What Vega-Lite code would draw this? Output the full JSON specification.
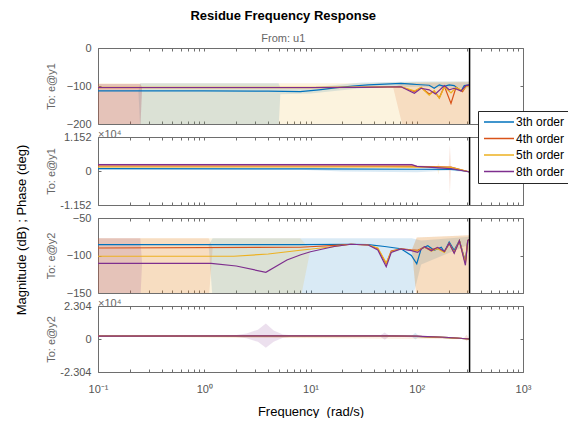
{
"$schema": "https://vega.github.io/schema/vega-lite/v6.json",
"background": "white",
"padding": {"left": 15, "top": 10, "right": 0, "bottom": 0},
"title": {"text": "Residue Frequency Response", "subtitle": "From: u1", "anchor": "middle", "dx": -10, "fontSize": 13, "fontWeight": "bold", "color": "black", "subtitleFontSize": 11, "subtitleColor": "#666666", "subtitlePadding": 10, "offset": -2},
"config": {
  "font": "Liberation Sans",
  "view": {"stroke": null},
  "axis": {"grid": false, "minExtent": 0, "domainColor": "#6e6e6e", "tickColor": "#6e6e6e", "labelColor": "#555555", "labelFontSize": 11, "domainWidth": 1, "tickWidth": 1}
},
"datasets": {
  "m1": [
    {"f":0.1,"s":"3th order","v":-113},{"f":1,"s":"3th order","v":-113},{"f":4,"s":"3th order","v":-113.5},{"f":8,"s":"3th order","v":-115},{"f":12,"s":"3th order","v":-110},{"f":17,"s":"3th order","v":-105},{"f":25,"s":"3th order","v":-100},{"f":35,"s":"3th order","v":-97},{"f":50,"s":"3th order","v":-95},{"f":71,"s":"3th order","v":-93},{"f":90,"s":"3th order","v":-95},{"f":100,"s":"3th order","v":-96},{"f":131,"s":"3th order","v":-98},{"f":146,"s":"3th order","v":-106},{"f":163,"s":"3th order","v":-97},{"f":182,"s":"3th order","v":-101},{"f":202,"s":"3th order","v":-97},{"f":225,"s":"3th order","v":-99},{"f":261,"s":"3th order","v":-113},{"f":280,"s":"3th order","v":-99},{"f":316,"s":"3th order","v":-97},
    {"f":0.1,"s":"4th order","v":-104.5},{"f":10,"s":"4th order","v":-104.5},{"f":30,"s":"4th order","v":-103.5},{"f":71,"s":"4th order","v":-102},{"f":95,"s":"4th order","v":-115},{"f":110,"s":"4th order","v":-104},{"f":131,"s":"4th order","v":-121},{"f":146,"s":"4th order","v":-114},{"f":163,"s":"4th order","v":-131},{"f":182,"s":"4th order","v":-101},{"f":210,"s":"4th order","v":-146},{"f":234,"s":"4th order","v":-104},{"f":270,"s":"4th order","v":-115},{"f":290,"s":"4th order","v":-101},{"f":316,"s":"4th order","v":-98},
    {"f":0.1,"s":"5th order","v":-103.5},{"f":10,"s":"5th order","v":-103.5},{"f":30,"s":"5th order","v":-103},{"f":71,"s":"5th order","v":-102},{"f":95,"s":"5th order","v":-113},{"f":110,"s":"5th order","v":-104},{"f":131,"s":"5th order","v":-124},{"f":146,"s":"5th order","v":-112},{"f":163,"s":"5th order","v":-132},{"f":182,"s":"5th order","v":-102},{"f":210,"s":"5th order","v":-118},{"f":234,"s":"5th order","v":-104},{"f":270,"s":"5th order","v":-112},{"f":290,"s":"5th order","v":-102},{"f":316,"s":"5th order","v":-98},
    {"f":0.1,"s":"8th order","v":-104},{"f":10,"s":"8th order","v":-104},{"f":30,"s":"8th order","v":-103.5},{"f":71,"s":"8th order","v":-102},{"f":95,"s":"8th order","v":-119},{"f":110,"s":"8th order","v":-106},{"f":131,"s":"8th order","v":-110},{"f":150,"s":"8th order","v":-121},{"f":182,"s":"8th order","v":-99},{"f":202,"s":"8th order","v":-110},{"f":225,"s":"8th order","v":-106},{"f":261,"s":"8th order","v":-113},{"f":290,"s":"8th order","v":-99},{"f":316,"s":"8th order","v":-97}
  ],
  "b1": [
    {"f":0.1,"s":"3th order","lo":-113,"hi":-113},{"f":0.24,"s":"3th order","lo":-113,"hi":-113},{"f":0.25,"s":"3th order","lo":-215,"hi":-93},{"f":5,"s":"3th order","lo":-215,"hi":-93},{"f":5.2,"s":"3th order","lo":-122,"hi":-104},{"f":10,"s":"3th order","lo":-120,"hi":-104},{"f":30,"s":"3th order","lo":-106,"hi":-91},{"f":100,"s":"3th order","lo":-102,"hi":-88},{"f":316,"s":"3th order","lo":-106,"hi":-88},
    {"f":0.1,"s":"4th order","lo":-215,"hi":-95},{"f":0.25,"s":"4th order","lo":-215,"hi":-95},{"f":0.26,"s":"4th order","lo":-104,"hi":-104},{"f":60,"s":"4th order","lo":-104,"hi":-104},{"f":75,"s":"4th order","lo":-215,"hi":-92},{"f":316,"s":"4th order","lo":-215,"hi":-90},
    {"f":0.1,"s":"5th order","lo":-215,"hi":-93},{"f":30,"s":"5th order","lo":-215,"hi":-93},{"f":71,"s":"5th order","lo":-215,"hi":-90},{"f":150,"s":"5th order","lo":-215,"hi":-89},{"f":316,"s":"5th order","lo":-215,"hi":-88},
    {"f":0.1,"s":"8th order","lo":-215,"hi":-95},{"f":0.25,"s":"8th order","lo":-215,"hi":-95},{"f":0.26,"s":"8th order","lo":-104,"hi":-104},{"f":316,"s":"8th order","lo":-97,"hi":-97}
  ],
  "m2": [
    {"f":0.1,"s":"3th order","v":780},{"f":10,"s":"3th order","v":700},{"f":100,"s":"3th order","v":600},{"f":210,"s":"3th order","v":580},{"f":260,"s":"3th order","v":300},{"f":316,"s":"3th order","v":-340},
    {"f":0.1,"s":"4th order","v":1700},{"f":10,"s":"4th order","v":1700},{"f":95,"s":"4th order","v":1650},{"f":100,"s":"4th order","v":1590},{"f":210,"s":"4th order","v":1360},{"f":316,"s":"4th order","v":-340},
    {"f":0.1,"s":"5th order","v":1360},{"f":50,"s":"5th order","v":1360},{"f":100,"s":"5th order","v":1300},{"f":210,"s":"5th order","v":1200},{"f":316,"s":"5th order","v":-340},
    {"f":0.1,"s":"8th order","v":2150},{"f":90,"s":"8th order","v":2150},{"f":100,"s":"8th order","v":1590},{"f":210,"s":"8th order","v":780},{"f":316,"s":"8th order","v":-340}
  ],
  "b2": [
    {"f":0.1,"s":"3th order","lo":400,"hi":1150},{"f":8,"s":"3th order","lo":400,"hi":1100},{"f":20,"s":"3th order","lo":-200,"hi":1000},{"f":100,"s":"3th order","lo":-400,"hi":900},{"f":200,"s":"3th order","lo":200,"hi":900},{"f":316,"s":"3th order","lo":-500,"hi":-200},
    {"f":0.1,"s":"4th order","lo":1400,"hi":2000},{"f":95,"s":"4th order","lo":1350,"hi":1950},{"f":100,"s":"4th order","lo":1300,"hi":1900},{"f":200,"s":"4th order","lo":1500,"hi":1500},{"f":205,"s":"4th order","lo":-7800,"hi":8800},{"f":210,"s":"4th order","lo":1200,"hi":1500},{"f":316,"s":"4th order","lo":-400,"hi":-300},
    {"f":0.1,"s":"5th order","lo":1100,"hi":1600},{"f":100,"s":"5th order","lo":1050,"hi":1550},{"f":155,"s":"5th order","lo":1000,"hi":1450},{"f":160,"s":"5th order","lo":-1200,"hi":2700},{"f":165,"s":"5th order","lo":1000,"hi":1400},{"f":316,"s":"5th order","lo":-400,"hi":-300},
    {"f":0.1,"s":"8th order","lo":1900,"hi":2450},{"f":90,"s":"8th order","lo":1900,"hi":2450},{"f":100,"s":"8th order","lo":1300,"hi":1900},{"f":210,"s":"8th order","lo":500,"hi":1100},{"f":316,"s":"8th order","lo":-400,"hi":-300}
  ],
  "m3": [
    {"f":0.1,"s":"3th order","v":-85.6},{"f":8,"s":"3th order","v":-85.6},{"f":24,"s":"3th order","v":-85},{"f":35,"s":"3th order","v":-85.6},{"f":50,"s":"3th order","v":-88},{"f":71,"s":"3th order","v":-91},{"f":89,"s":"3th order","v":-100},{"f":100,"s":"3th order","v":-111},{"f":110,"s":"3th order","v":-91},{"f":127,"s":"3th order","v":-87},{"f":146,"s":"3th order","v":-93},{"f":170,"s":"3th order","v":-89},{"f":182,"s":"3th order","v":-95},{"f":202,"s":"3th order","v":-82},{"f":225,"s":"3th order","v":-93},{"f":252,"s":"3th order","v":-80},{"f":287,"s":"3th order","v":-108},{"f":302,"s":"3th order","v":-80},{"f":316,"s":"3th order","v":-78},
    {"f":0.1,"s":"4th order","v":-90},{"f":8,"s":"4th order","v":-89},{"f":17,"s":"4th order","v":-86.5},{"f":24,"s":"4th order","v":-85},{"f":35,"s":"4th order","v":-86},{"f":43,"s":"4th order","v":-91},{"f":51.6,"s":"4th order","v":-111},{"f":57.5,"s":"4th order","v":-94},{"f":71,"s":"4th order","v":-91},{"f":89,"s":"4th order","v":-92.5},{"f":102,"s":"4th order","v":-93},{"f":118,"s":"4th order","v":-89},{"f":137,"s":"4th order","v":-92},{"f":157,"s":"4th order","v":-90},{"f":182,"s":"4th order","v":-95},{"f":202,"s":"4th order","v":-84},{"f":225,"s":"4th order","v":-96},{"f":252,"s":"4th order","v":-81},{"f":287,"s":"4th order","v":-110},{"f":302,"s":"4th order","v":-80},{"f":316,"s":"4th order","v":-78},
    {"f":0.1,"s":"5th order","v":-101},{"f":1.9,"s":"5th order","v":-101},{"f":4,"s":"5th order","v":-98},{"f":8,"s":"5th order","v":-93},{"f":17,"s":"5th order","v":-88},{"f":24,"s":"5th order","v":-85},{"f":35,"s":"5th order","v":-86},{"f":43,"s":"5th order","v":-90},{"f":51.6,"s":"5th order","v":-110},{"f":57.5,"s":"5th order","v":-95},{"f":71,"s":"5th order","v":-91},{"f":89,"s":"5th order","v":-93},{"f":102,"s":"5th order","v":-94},{"f":118,"s":"5th order","v":-89},{"f":137,"s":"5th order","v":-94},{"f":157,"s":"5th order","v":-91},{"f":182,"s":"5th order","v":-96},{"f":202,"s":"5th order","v":-84},{"f":225,"s":"5th order","v":-96},{"f":252,"s":"5th order","v":-80},{"f":287,"s":"5th order","v":-110},{"f":302,"s":"5th order","v":-80},{"f":316,"s":"5th order","v":-78},
    {"f":0.1,"s":"8th order","v":-110.4},{"f":1.16,"s":"8th order","v":-110.4},{"f":2,"s":"8th order","v":-114},{"f":3.8,"s":"8th order","v":-122.4},{"f":6,"s":"8th order","v":-106},{"f":8.1,"s":"8th order","v":-99},{"f":10,"s":"8th order","v":-95},{"f":16.7,"s":"8th order","v":-88},{"f":24,"s":"8th order","v":-85},{"f":35,"s":"8th order","v":-86},{"f":43,"s":"8th order","v":-92.7},{"f":51.6,"s":"8th order","v":-115},{"f":57.5,"s":"8th order","v":-96},{"f":71,"s":"8th order","v":-91.3},{"f":89,"s":"8th order","v":-93.6},{"f":102,"s":"8th order","v":-95.8},{"f":118,"s":"8th order","v":-88.2},{"f":137,"s":"8th order","v":-93.6},{"f":157,"s":"8th order","v":-89.1},{"f":182,"s":"8th order","v":-94.7},{"f":202,"s":"8th order","v":-83.8},{"f":225,"s":"8th order","v":-97.1},{"f":252,"s":"8th order","v":-80.2},{"f":287,"s":"8th order","v":-113},{"f":302,"s":"8th order","v":-80},{"f":316,"s":"8th order","v":-78}
  ],
  "b3": [
    {"f":0.1,"s":"3th order","lo":-86,"hi":-86},{"f":1.1,"s":"3th order","lo":-86,"hi":-86},{"f":1.2,"s":"3th order","lo":-160,"hi":-77},{"f":90,"s":"3th order","lo":-160,"hi":-77},{"f":110,"s":"3th order","lo":-112,"hi":-80},{"f":316,"s":"3th order","lo":-85,"hi":-75},
    {"f":0.1,"s":"4th order","lo":-160,"hi":-77},{"f":1.1,"s":"4th order","lo":-160,"hi":-77},{"f":1.2,"s":"4th order","lo":-90,"hi":-90},{"f":90,"s":"4th order","lo":-92,"hi":-92},{"f":100,"s":"4th order","lo":-160,"hi":-76},{"f":316,"s":"4th order","lo":-160,"hi":-73},
    {"f":0.1,"s":"5th order","lo":-160,"hi":-77},{"f":8,"s":"5th order","lo":-160,"hi":-77},{"f":10,"s":"5th order","lo":-92,"hi":-92},{"f":90,"s":"5th order","lo":-93,"hi":-93},{"f":100,"s":"5th order","lo":-160,"hi":-76},{"f":316,"s":"5th order","lo":-160,"hi":-73},
    {"f":0.1,"s":"8th order","lo":-160,"hi":-77},{"f":0.25,"s":"8th order","lo":-160,"hi":-77},{"f":0.26,"s":"8th order","lo":-110,"hi":-110},{"f":316,"s":"8th order","lo":-78,"hi":-78}
  ],
  "m4": [
    {"f":0.1,"s":"3th order","v":1950},{"f":10,"s":"3th order","v":2150},{"f":50,"s":"3th order","v":2150},{"f":100,"s":"3th order","v":1850},{"f":200,"s":"3th order","v":950},{"f":316,"s":"3th order","v":0},
    {"f":0.1,"s":"4th order","v":2000},{"f":10,"s":"4th order","v":2200},{"f":50,"s":"4th order","v":2200},{"f":100,"s":"4th order","v":1900},{"f":200,"s":"4th order","v":1000},{"f":316,"s":"4th order","v":0},
    {"f":0.1,"s":"5th order","v":2000},{"f":10,"s":"5th order","v":2200},{"f":50,"s":"5th order","v":2200},{"f":100,"s":"5th order","v":1900},{"f":200,"s":"5th order","v":1000},{"f":316,"s":"5th order","v":0},
    {"f":0.1,"s":"8th order","v":2050},{"f":10,"s":"8th order","v":2250},{"f":50,"s":"8th order","v":2250},{"f":100,"s":"8th order","v":1950},{"f":200,"s":"8th order","v":1050},{"f":316,"s":"8th order","v":0}
  ],
  "b4": [
    {"f":0.1,"s":"3th order","lo":1700,"hi":2300},{"f":90,"s":"3th order","lo":1500,"hi":2200},{"f":97,"s":"3th order","lo":-300,"hi":4300},{"f":105,"s":"3th order","lo":1500,"hi":2100},{"f":316,"s":"3th order","lo":-200,"hi":200},
    {"f":0.1,"s":"4th order","lo":1700,"hi":2300},{"f":280,"s":"4th order","lo":300,"hi":900},{"f":295,"s":"4th order","lo":-1500,"hi":3000},{"f":310,"s":"4th order","lo":0,"hi":300},{"f":316,"s":"4th order","lo":-200,"hi":200},
    {"f":0.1,"s":"5th order","lo":1700,"hi":2300},{"f":316,"s":"5th order","lo":-200,"hi":200},
    {"f":0.1,"s":"8th order","lo":1700,"hi":2300},{"f":1.8,"s":"8th order","lo":1700,"hi":2300},{"f":2.5,"s":"8th order","lo":500,"hi":3800},{"f":3.2,"s":"8th order","lo":-2000,"hi":6500},{"f":3.8,"s":"8th order","lo":-6100,"hi":10800},{"f":4.5,"s":"8th order","lo":-2000,"hi":6000},{"f":5.5,"s":"8th order","lo":800,"hi":3200},{"f":7,"s":"8th order","lo":1700,"hi":2500},{"f":45,"s":"8th order","lo":1700,"hi":2500},{"f":50,"s":"8th order","lo":-500,"hi":4500},{"f":55,"s":"8th order","lo":1700,"hi":2500},{"f":316,"s":"8th order","lo":-200,"hi":200}
  ]
},
"vconcat": [
 {
  "title": {"text": "Magnitude (dB) ; Phase (deg)", "orient": "left", "anchor": "middle", "fontSize": 13, "fontWeight": "normal", "color": "black", "offset": 16},
  "spacing": 13,
  "bounds": "flush",
  "resolve": {"scale": {"fill": "independent", "stroke": "independent"}, "legend": {"fill": "independent", "stroke": "independent"}},
  "vconcat": [
   {
    "width": 425, "height": 76,
    "title": {"text": "×10⁴", "orient": "bottom", "anchor": "start", "frame": "group", "baseline": "top", "fontSize": 11, "fontWeight": "normal", "color": "#666666", "offset": 0},
    "resolve": {"axis": {"x": "independent", "y": "independent"}},
    "layer": [
     {"data": {"name": "b1"}, "mark": {"type": "area", "clip": true, "fillOpacity": 0.15},
      "encoding": {
       "x": {"field": "f", "type": "quantitative", "scale": {"type": "log", "domain": [0.1, 1000], "nice": false}, "axis": {"orient": "bottom", "values": [0.1,0.2,0.3,0.4,0.5,0.6,0.7,0.8,0.9,1,2,3,4,5,6,7,8,9,10,20,30,40,50,60,70,80,90,100,200,300,400,500,600,700,800,900,1000], "labels": false, "tickSize": -3, "title": null}},
       "y": {"field": "lo", "type": "quantitative", "scale": {"domain": [-200, 0], "nice": false, "zero": false}, "axis": {"orient": "left", "values": [-200, -100, 0], "tickSize": -3, "labelPadding": 10, "title": "To: e@y1", "titleX": -44, "titleBaseline": "alphabetic", "titleFontSize": 11, "titleFontWeight": "normal", "titleColor": "#666666"}},
       "y2": {"field": "hi"},
       "fill": {"field": "s", "type": "nominal", "scale": {"range": ["#0072BD","#D95319","#EDB120","#7E2F8E"]}, "legend": null}
      }},
     {"data": {"name": "m1"}, "mark": {"type": "line", "clip": true, "strokeWidth": 1.2},
      "encoding": {
       "x": {"field": "f", "type": "quantitative", "axis": {"orient": "top", "values": [0.1,0.2,0.3,0.4,0.5,0.6,0.7,0.8,0.9,1,2,3,4,5,6,7,8,9,10,20,30,40,50,60,70,80,90,100,200,300,400,500,600,700,800,900,1000], "labels": false, "tickSize": -3, "title": null}},
       "y": {"field": "v", "type": "quantitative", "axis": {"orient": "right", "values": [-200, -100, 0], "labels": false, "tickSize": -3, "title": null}},
       "stroke": {"field": "s", "type": "nominal", "scale": {"domain": ["3th order","4th order","5th order","8th order"], "range": ["#0072BD","#D95319","#EDB120","#7E2F8E"]}, "legend": null}
      }},
     {"data": {"values": [{}]}, "mark": {"type": "rule", "color": "black", "strokeWidth": 1.5},
      "encoding": {"x": {"datum": 314.16, "type": "quantitative", "axis": null}}}
    ]
   },
   {
    "width": 425, "height": 68,
    "resolve": {"axis": {"x": "independent", "y": "independent"}},
    "layer": [
     {"data": {"name": "b2"}, "mark": {"type": "area", "clip": true, "fillOpacity": 0.15},
      "encoding": {
       "x": {"field": "f", "type": "quantitative", "scale": {"type": "log", "domain": [0.1, 1000], "nice": false}, "axis": {"orient": "bottom", "values": [0.1,0.2,0.3,0.4,0.5,0.6,0.7,0.8,0.9,1,2,3,4,5,6,7,8,9,10,20,30,40,50,60,70,80,90,100,200,300,400,500,600,700,800,900,1000], "labels": false, "tickSize": -3, "title": null}},
       "y": {"field": "lo", "type": "quantitative", "scale": {"domain": [-11520, 11520], "nice": false, "zero": false}, "axis": {"orient": "left", "values": [-11520, 0, 11520], "labelExpr": "datum.value == 0 ? '0' : (datum.value > 0 ? '1.152' : '-1.152')", "tickSize": -3, "labelPadding": 10, "title": "To: e@y1", "titleX": -44, "titleBaseline": "alphabetic", "titleFontSize": 11, "titleFontWeight": "normal", "titleColor": "#666666"}},
       "y2": {"field": "hi"},
       "fill": {"field": "s", "type": "nominal", "scale": {"range": ["#0072BD","#D95319","#EDB120","#7E2F8E"]}, "legend": null}
      }},
     {"data": {"name": "m2"}, "mark": {"type": "line", "clip": true, "strokeWidth": 1.2},
      "encoding": {
       "x": {"field": "f", "type": "quantitative", "axis": {"orient": "top", "values": [0.1,0.2,0.3,0.4,0.5,0.6,0.7,0.8,0.9,1,2,3,4,5,6,7,8,9,10,20,30,40,50,60,70,80,90,100,200,300,400,500,600,700,800,900,1000], "labels": false, "tickSize": -3, "title": null}},
       "y": {"field": "v", "type": "quantitative", "axis": {"orient": "right", "values": [-11520, 0, 11520], "labels": false, "tickSize": -3, "title": null}},
       "stroke": {"field": "s", "type": "nominal", "scale": {"domain": ["3th order","4th order","5th order","8th order"], "range": ["#0072BD","#D95319","#EDB120","#7E2F8E"]},
         "legend": {"orient": "none", "legendX": 380, "legendY": -26, "title": null, "symbolType": "M-1,0H5", "symbolSize": 100, "symbolStrokeWidth": 1.5, "labelFontSize": 12, "labelColor": "black", "labelOffset": 21, "strokeColor": "#262626", "fillColor": "white", "padding": 5, "rowPadding": 4.5}}
      }},
     {"data": {"values": [{}]}, "mark": {"type": "rule", "color": "black", "strokeWidth": 1.5},
      "encoding": {"x": {"datum": 314.16, "type": "quantitative", "axis": null}}}
    ]
   },
   {
    "width": 425, "height": 75,
    "title": {"text": "×10⁴", "orient": "bottom", "anchor": "start", "frame": "group", "baseline": "top", "fontSize": 11, "fontWeight": "normal", "color": "#666666", "offset": 0},
    "resolve": {"axis": {"x": "independent", "y": "independent"}},
    "layer": [
     {"data": {"name": "b3"}, "mark": {"type": "area", "clip": true, "fillOpacity": 0.15},
      "encoding": {
       "x": {"field": "f", "type": "quantitative", "scale": {"type": "log", "domain": [0.1, 1000], "nice": false}, "axis": {"orient": "bottom", "values": [0.1,0.2,0.3,0.4,0.5,0.6,0.7,0.8,0.9,1,2,3,4,5,6,7,8,9,10,20,30,40,50,60,70,80,90,100,200,300,400,500,600,700,800,900,1000], "labels": false, "tickSize": -3, "title": null}},
       "y": {"field": "lo", "type": "quantitative", "scale": {"domain": [-150, -50], "nice": false, "zero": false}, "axis": {"orient": "left", "values": [-150, -100, -50], "tickSize": -3, "labelPadding": 10, "title": "To: e@y2", "titleX": -44, "titleBaseline": "alphabetic", "titleFontSize": 11, "titleFontWeight": "normal", "titleColor": "#666666"}},
       "y2": {"field": "hi"},
       "fill": {"field": "s", "type": "nominal", "scale": {"range": ["#0072BD","#D95319","#EDB120","#7E2F8E"]}, "legend": null}
      }},
     {"data": {"name": "m3"}, "mark": {"type": "line", "clip": true, "strokeWidth": 1.2},
      "encoding": {
       "x": {"field": "f", "type": "quantitative", "axis": {"orient": "top", "values": [0.1,0.2,0.3,0.4,0.5,0.6,0.7,0.8,0.9,1,2,3,4,5,6,7,8,9,10,20,30,40,50,60,70,80,90,100,200,300,400,500,600,700,800,900,1000], "labels": false, "tickSize": -3, "title": null}},
       "y": {"field": "v", "type": "quantitative", "axis": {"orient": "right", "values": [-150, -100, -50], "labels": false, "tickSize": -3, "title": null}},
       "stroke": {"field": "s", "type": "nominal", "scale": {"domain": ["3th order","4th order","5th order","8th order"], "range": ["#0072BD","#D95319","#EDB120","#7E2F8E"]}, "legend": null}
      }},
     {"data": {"values": [{}]}, "mark": {"type": "rule", "color": "black", "strokeWidth": 1.5},
      "encoding": {"x": {"datum": 314.16, "type": "quantitative", "axis": null}}}
    ]
   },
   {
    "width": 425, "height": 66,
    "resolve": {"axis": {"x": "independent", "y": "independent"}},
    "layer": [
     {"data": {"name": "b4"}, "mark": {"type": "area", "clip": true, "fillOpacity": 0.15},
      "encoding": {
       "x": {"field": "f", "type": "quantitative", "scale": {"type": "log", "domain": [0.1, 1000], "nice": false}, "axis": {"orient": "bottom", "values": [0.1,0.2,0.3,0.4,0.5,0.6,0.7,0.8,0.9,1,2,3,4,5,6,7,8,9,10,20,30,40,50,60,70,80,90,100,200,300,400,500,600,700,800,900,1000], "labelExpr": "datum.value == 0.1 ? '10⁻¹' : datum.value == 1 ? '10⁰' : datum.value == 10 ? '10¹' : datum.value == 100 ? '10²' : datum.value == 1000 ? '10³' : ''", "labelOverlap": false, "labelFlush": false, "labelPadding": 14, "tickSize": -3, "title": "Frequency\u00a0 (rad/s)", "titleFontSize": 13, "titleFontWeight": "normal", "titleColor": "black", "titlePadding": 11}},
       "y": {"field": "lo", "type": "quantitative", "scale": {"domain": [-23040, 23040], "nice": false, "zero": false}, "axis": {"orient": "left", "values": [-23040, 0, 23040], "labelExpr": "datum.value == 0 ? '0' : (datum.value > 0 ? '2.304' : '-2.304')", "tickSize": -3, "labelPadding": 10, "title": "To: e@y2", "titleX": -44, "titleBaseline": "alphabetic", "titleFontSize": 11, "titleFontWeight": "normal", "titleColor": "#666666"}},
       "y2": {"field": "hi"},
       "fill": {"field": "s", "type": "nominal", "scale": {"range": ["#0072BD","#D95319","#EDB120","#7E2F8E"]}, "legend": null}
      }},
     {"data": {"name": "m4"}, "mark": {"type": "line", "clip": true, "strokeWidth": 1.2},
      "encoding": {
       "x": {"field": "f", "type": "quantitative", "axis": {"orient": "top", "values": [0.1,0.2,0.3,0.4,0.5,0.6,0.7,0.8,0.9,1,2,3,4,5,6,7,8,9,10,20,30,40,50,60,70,80,90,100,200,300,400,500,600,700,800,900,1000], "labels": false, "tickSize": -3, "title": null}},
       "y": {"field": "v", "type": "quantitative", "axis": {"orient": "right", "values": [-23040, 0, 23040], "labels": false, "tickSize": -3, "title": null}},
       "stroke": {"field": "s", "type": "nominal", "scale": {"domain": ["3th order","4th order","5th order","8th order"], "range": ["#0072BD","#D95319","#EDB120","#7E2F8E"]}, "legend": null}
      }},
     {"data": {"values": [{}]}, "mark": {"type": "rule", "color": "black", "strokeWidth": 1.5},
      "encoding": {"x": {"datum": 314.16, "type": "quantitative", "axis": null}}}
    ]
   }
  ]
 }
]
}
